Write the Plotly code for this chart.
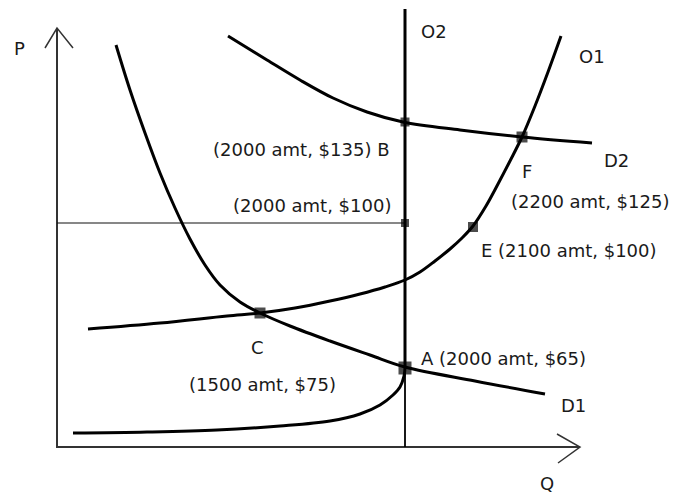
import plotly.graph_objects as go

# ---- values (picture units: x to the right, y downward) ----
# Axes
p_axis_x = [57, 57, 580]
p_axis_y = [28, 447, 447]
p_arrow_x = [45, 57, 73]
p_arrow_y = [48, 28, 48]
q_arrow_x = [557, 580, 558]
q_arrow_y = [434, 447, 463]

# Demand curve D1
d1_x = [116, 130, 145, 160, 175, 190, 205, 220, 240, 260, 290, 330, 370, 405, 475, 545]
d1_y = [45, 90, 133, 173, 208, 239, 265, 285, 302, 313, 326, 341, 355, 367, 381, 394]

# Demand curve D2
d2_x = [228, 267, 300, 333, 367, 403, 460, 522, 592]
d2_y = [36, 60, 80, 98, 112, 122, 130, 137, 143]

# Supply curve O1
o1_x = [88, 160, 227, 260, 295, 330, 360, 385, 405, 420, 435, 450, 462, 473, 486, 498, 510, 522, 535, 548, 561]
o1_y = [329, 323, 316, 313, 308, 301, 294, 287, 280, 272, 261, 249, 238, 226, 206, 184, 161, 137, 106, 72, 36]

# Short-run supply curve (lower)
s_x = [73, 147, 217, 280, 330, 360, 380, 393, 400, 404, 405]
s_y = [433, 432, 430, 426, 421, 414, 405, 395, 387, 376, 368]

# Vertical supply O2
o2_x = [405, 405]
o2_y = [9, 368]
o2_low_x = [405, 405]
o2_low_y = [368, 447]

# Price line at $100
h_x = [57, 405]
h_y = [223, 223]

# Marked points
pt_names = ["B", "F", "mid", "E", "C", "A"]
pt_x = [405, 522, 405, 473, 260, 405]
pt_y = [122, 137, 223, 227, 313, 368]
pt_size = [9, 11, 8, 10, 11, 13]

# Text labels
lab_text = ["P", "Q", "O2", "O1", "D2", "D1",
            "(2000 amt, $135) B", "(2000 amt, $100)", "F", "(2200 amt, $125)",
            "E (2100 amt, $100)", "C", "(1500 amt, $75)", "A (2000 amt, $65)"]
lab_x = [19, 547, 420, 578, 603, 560, 391, 392, 527, 510, 480, 257, 188, 420]
lab_y = [48, 483, 31, 56, 160, 405, 149, 205, 171, 201, 250, 347, 384, 358]
lab_anchor = ["center", "center", "left", "left", "left", "left", "right", "right",
              "center", "left", "left", "center", "left", "left"]

INK = "#000000"
fig = go.Figure()

def line(x, y, w, color=INK, shape="linear"):
    fig.add_trace(go.Scatter(x=x, y=y, mode="lines",
                             line=dict(color=color, width=w, shape=shape, smoothing=1.0),
                             hoverinfo="skip", showlegend=False))

# axes
line(p_axis_x, p_axis_y, 2, "#333333")
line(p_arrow_x, p_arrow_y, 1.5, "#333333")
line(q_arrow_x, q_arrow_y, 1.5, "#333333")
# price line
line(h_x, h_y, 1.2, "#111111")
# O2
line(o2_low_x, o2_low_y, 1.8)
line(o2_x, o2_y, 3)
# curves
line(d1_x, d1_y, 3, shape="spline")
line(d2_x, d2_y, 3, shape="spline")
line(o1_x, o1_y, 3, shape="spline")
line(s_x, s_y, 3, shape="spline")

# points
fig.add_trace(go.Scatter(x=pt_x, y=pt_y, mode="markers",
                         marker=dict(symbol="square", size=pt_size, color=INK,
                                     line=dict(width=0)),
                         hoverinfo="skip", showlegend=False))

for t, x, y, a in zip(lab_text, lab_x, lab_y, lab_anchor):
    fig.add_annotation(x=x, y=y, text=t, showarrow=False, xanchor=a, yanchor="middle",
                       font=dict(family="DejaVu Sans", size=18, color="#1a1a1a"),
                       borderpad=0)

fig.update_layout(
    width=673, height=495,
    margin=dict(l=0, r=0, t=0, b=0),
    paper_bgcolor="white", plot_bgcolor="white",
    xaxis=dict(range=[0, 673], visible=False, fixedrange=True),
    yaxis=dict(range=[495, 0], visible=False, fixedrange=True),
    hovermode=False,
)

# remove the page's default 8px body margin so the figure fills the window exactly
fig.write_html("out.html",
               config={"displayModeBar": False, "staticPlot": True},
               post_script="document.body.style.margin='0';document.body.style.overflow='hidden';")
